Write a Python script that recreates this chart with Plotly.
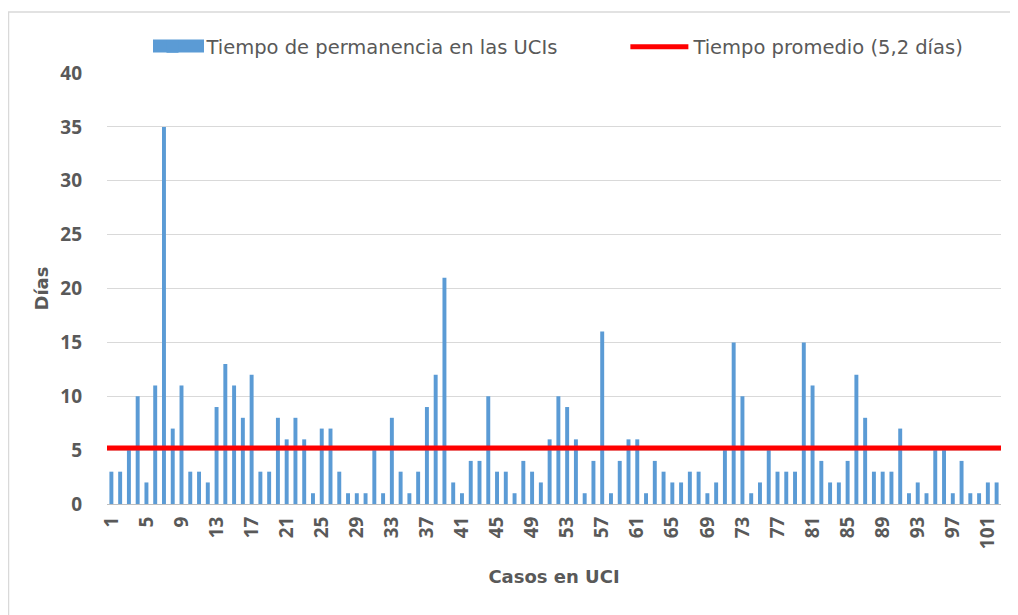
import plotly.graph_objects as go

cases = list(range(1, 103))
days = [3, 3, 5, 10, 2, 11, 35, 7, 11, 3,
        3, 2, 9, 13, 11, 8, 12, 3, 3, 8,
        6, 8, 6, 1, 7, 7, 3, 1, 1, 1,
        5, 1, 8, 3, 1, 3, 9, 12, 21, 2,
        1, 4, 4, 10, 3, 3, 1, 4, 3, 2,
        6, 10, 9, 6, 1, 4, 16, 1, 4, 6,
        6, 1, 4, 3, 2, 2, 3, 3, 1, 2,
        5, 15, 10, 1, 2, 5, 3, 3, 3, 15,
        11, 4, 2, 2, 4, 12, 8, 3, 3, 3,
        7, 1, 2, 1, 5, 5, 1, 4, 1, 1,
        2, 2]
mean_days = 5.2
tick_labels = list(range(1, 102, 4))

bar_name = "Tiempo de permanencia en las UCIs"
line_name = "Tiempo promedio (5,2 días)"

grey = "#595959"
bar_color = "#5b9bd5"
tick_fam = "'Open Sans', sans-serif"
text_fam = "'DejaVu Sans', sans-serif"

# page body has an 8px margin; compensate so absolute positions match
W, H = 1010, 607
L, T, PW, PH = 99, 65, 894, 431
R, B = W - L - PW, H - T - PH
OFF = 8


def px_x(x_abs):
    return (x_abs - OFF - L) / PW


def px_y(y_abs):
    return (H - B - (y_abs - OFF)) / PH


fig = go.Figure()
fig.add_trace(go.Bar(x=cases, y=days, name=bar_name + "          ", marker_color=bar_color,
                     marker_line_width=0))
fig.add_trace(go.Scatter(x=[cases[0] - 0.5, cases[-1] + 0.5], y=[mean_days, mean_days],
                         mode="lines", name=line_name,
                         line=dict(color="#ff0000", width=5)))

fig.update_layout(
    width=W, height=H,
    margin=dict(l=L, r=R, t=T, b=B),
    paper_bgcolor="white", plot_bgcolor="white",
    bargap=0.55,
    font=dict(family=text_fam, color=grey, size=16),
    legend=dict(orientation="h", x=0.5, xanchor="center", y=px_y(47), yanchor="middle",
                bgcolor="rgba(0,0,0,0)",
                font=dict(size=19.5, color=grey, family=text_fam), itemwidth=58, tracegroupgap=0),
    showlegend=True,
    xaxis=dict(range=[cases[0] - 0.5, cases[-1] + 0.5], tickmode="array",
               tickvals=tick_labels, ticktext=[str(t) for t in tick_labels],
               tickangle=-90, tickfont=dict(size=19, color=grey, family=tick_fam, weight="bold"),
               ticklabelstandoff=4,
               showgrid=False, showline=True, linecolor="#bfbfbf", linewidth=1,
               zeroline=False, ticks="",
               title=dict(text="<b>Casos en UCI</b>", font=dict(size=18, color=grey, family=text_fam),
                          standoff=22)),
    yaxis=dict(range=[0, 40], dtick=5, showgrid=True, gridcolor="#d9d9d9", gridwidth=1,
               zeroline=False, showline=False,
               tickfont=dict(size=19, color=grey, family=tick_fam, weight="bold"),
               ticklabelstandoff=24,
               ticks="", ticklen=0,
               title=dict(text="<b>Días</b>", font=dict(size=18, color=grey, family=text_fam),
                          standoff=6)),
    shapes=[
        # chart border
        dict(type="rect", xref="paper", yref="paper",
             x0=px_x(8.5), x1=px_x(W + 40), y0=px_y(640), y1=px_y(12),
             line=dict(color="#d9d9d9", width=1.5), fillcolor="rgba(0,0,0,0)", layer="below"),
        # wide legend swatch for the bar series
        dict(type="rect", xref="paper", yref="paper",
             x0=px_x(153), x1=px_x(204), y0=px_y(52.5), y1=px_y(39.5),
             line=dict(width=0), fillcolor=bar_color, layer="above"),
    ],
)

fig.write_html("out.html")
